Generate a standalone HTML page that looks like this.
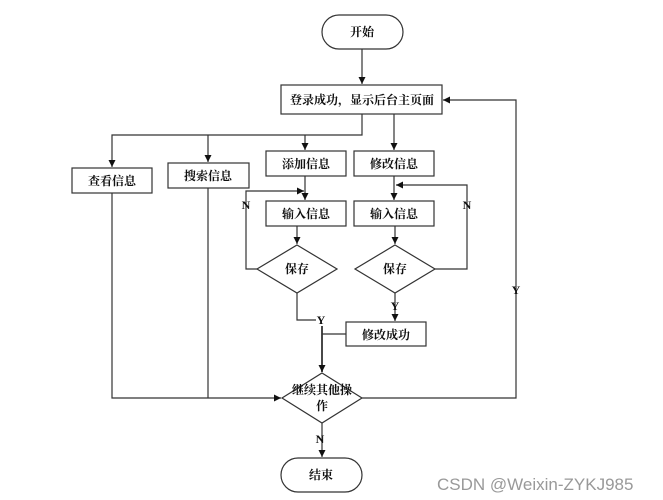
<!DOCTYPE html>
<html><head><meta charset="utf-8"><style>
html,body{margin:0;padding:0;background:#fff;}
svg{display:block;}
text{font-family:"Liberation Serif","Noto Serif CJK SC",serif;font-weight:bold;font-size:12px;fill:#111;}
</style></head><body>
<svg width="663" height="500" viewBox="0 0 663 500" xmlns="http://www.w3.org/2000/svg">
<defs><marker id="a" markerWidth="8" markerHeight="8" refX="7" refY="4" orient="auto" markerUnits="userSpaceOnUse"><path d="M0,0.5 L7,4 L0,7.5z" fill="#111"/></marker></defs>
<g fill="#fff" stroke="#333" stroke-width="1.2">
<rect x="322" y="15" width="81" height="34" rx="17"/>
<rect x="281" y="85" width="161" height="29"/>
<rect x="72" y="168" width="80" height="25"/>
<rect x="168" y="163" width="81" height="25"/>
<rect x="266" y="151" width="80" height="25"/>
<rect x="354" y="151" width="80" height="25"/>
<rect x="266" y="201" width="80" height="25"/>
<rect x="354" y="201" width="80" height="25"/>
<path d="M297,245 L337,269 L297,293 L257,269z"/>
<path d="M395,245 L435,269 L395,293 L355,269z"/>
<rect x="346" y="322" width="80" height="24"/>
<path d="M322,373 L362,398 L322,423 L282,398z"/>
<rect x="281" y="458" width="81" height="34" rx="17"/>
</g>
<g fill="none" stroke="#333" stroke-width="1.2">
<path d="M362,49 V84" marker-end="url(#a)"/>
<path d="M362,114 V135 H112 V167" marker-end="url(#a)"/>
<path d="M208,135 V162" marker-end="url(#a)"/>
<path d="M305,135 V150" marker-end="url(#a)"/>
<path d="M394,114 V150" marker-end="url(#a)"/>
<path d="M305,176 V200" marker-end="url(#a)"/>
<path d="M394,176 V200" marker-end="url(#a)"/>
<path d="M297,226 V244" marker-end="url(#a)"/>
<path d="M395,226 V244" marker-end="url(#a)"/>
<path d="M257,269 H246 V191 H304" marker-end="url(#a)"/>
<path d="M435,269 H467 V185 H396" marker-end="url(#a)"/>
<path d="M297,293 V320 H316"/>
<path d="M395,293 V321" marker-end="url(#a)"/>
<path d="M346,334 H322"/>
<path d="M322,326 V372" stroke-width="1.8" marker-end="url(#a)"/>
<path d="M112,193 V398 H281" marker-end="url(#a)"/>
<path d="M208,188 V398"/>
<path d="M362,398 H516 V100 H443" marker-end="url(#a)"/>
<path d="M322,423 V457" marker-end="url(#a)"/>
</g>
<g text-anchor="middle">
<text x="362" y="36">开始</text>
<text x="362" y="104">登录成功，显示后台主页面</text>
<text x="112" y="185">查看信息</text>
<text x="208" y="180">搜索信息</text>
<text x="306" y="168">添加信息</text>
<text x="394" y="168">修改信息</text>
<text x="306" y="218">输入信息</text>
<text x="394" y="218">输入信息</text>
<text x="297" y="273">保存</text>
<text x="395" y="273">保存</text>
<text x="386" y="339">修改成功</text>
<text x="322" y="394">继续其他操</text>
<text x="322" y="410">作</text>
<text x="321" y="479">结束</text>
<text x="246" y="209">N</text>
<text x="467" y="209">N</text>
<text x="321" y="324">Y</text>
<text x="395" y="310">Y</text>
<text x="516" y="294">Y</text>
<text x="320" y="443">N</text>
</g>
<text x="437" y="490" style="font-family:'Liberation Sans',sans-serif;font-weight:normal;font-size:17px;fill:#999;">CSDN @Weixin-ZYKJ985</text>
</svg>
</body></html>
